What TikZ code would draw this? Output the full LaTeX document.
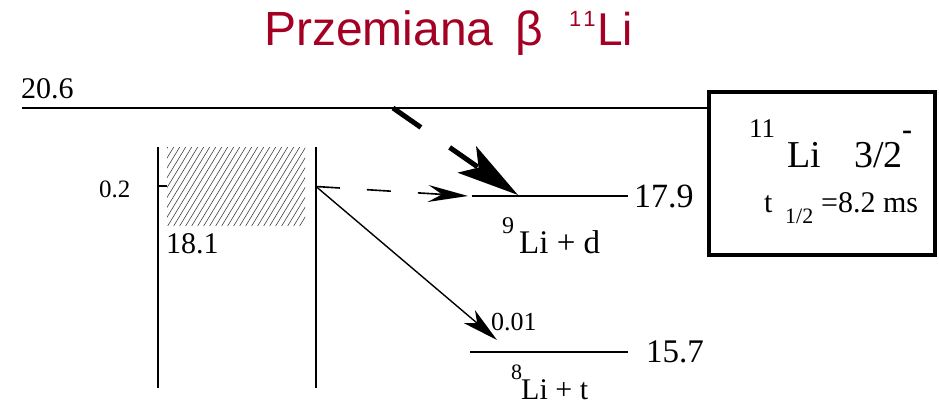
\documentclass[tikz,border=0pt]{standalone}
\usepackage{fontspec}
\setmainfont{Liberation Serif}
\newfontfamily\titlefont{Liberation Sans}
\newfontfamily\serifnum{Liberation Serif}
\usetikzlibrary{arrows.meta}
\definecolor{titlered}{RGB}{163,0,35}
\newcommand\fsz[1]{\fontsize{#1}{#1}\selectfont}
\begin{document}
\begin{tikzpicture}[x=1pt,y=-1pt,
  lbl/.style={inner sep=0pt, anchor=base west},
  level/.style={line width=2.4pt},
  wall/.style={line width=2pt},
  thick dashed arrow/.style={line width=5pt, dash pattern=on 34pt off 35pt,
    -{Stealth[length=62pt,width=32pt,inset=14pt]}},
  thin dashed arrow/.style={line width=1.6pt, dash pattern=on 24pt off 27pt,
    -{Stealth[length=40pt,width=17pt,inset=14pt]}},
  thin arrow/.style={line width=1.4pt, -{Stealth[length=36pt,width=17pt,inset=10pt]}},
  hatch/.style={line width=0.6pt, black!75}]
\useasboundingbox (0,0) rectangle (939,404);

% title
\node[lbl, text=titlered, font=\titlefont\fsz{48}] (title) at (264,46) {Przemiana\hspace{9pt} β};
\node[lbl, text=titlered, font=\titlefont\fsz{22}] (titlesup) at (569,27) {1\hspace{2pt}1};
\node[lbl, text=titlered, font=\titlefont\fsz{46}] (titleli) at (597,46) {Li};

% box
\node[draw, line width=4pt, minimum width=226pt, minimum height=163pt, anchor=north west, inner sep=0pt] (box) at (707,90) {};
\node[lbl, font=\serifnum\fsz{27}] (bsup) at (749,137) {11};
\node[lbl, font=\serifnum\fsz{38}] (bli) at (787,167) {Li};
\node[lbl, font=\serifnum\fsz{38}] (bspin) at (854,167) {3/2};
\node[lbl, font=\serifnum\fsz{30}\bfseries] (bpar) at (902,139) {-};
\node[lbl, font=\serifnum\fsz{30}] (bt) at (764,212) {t};
\node[lbl, font=\serifnum\fsz{22}] (bhalf) at (785,223) {1/2};
\node[lbl, font=\serifnum\fsz{30}] (bval) at (821,212) {=8.2 ms};

% level 20.6
\coordinate (a206) at (22,108);
\node[lbl, font=\serifnum\fsz{30}] (t206) at (21,98) {20.6};
\draw[level] (a206) -- (a206 -| box.west);

% resonance walls
\coordinate (wl-top) at (158,147);
\coordinate (wl-bot) at (158,388);
\coordinate (wr-top) at (316,147);
\coordinate (wr-bot) at (316,388);
\draw[wall] (wl-top) -- (wl-bot);
\draw[wall] (wr-top) -- (wr-bot);

% hatched area
\coordinate (h-nw) at (167,147);
\coordinate (h-se) at (305,225);
\begin{scope}
  \clip (h-nw) rectangle (h-se);
  \foreach \i in {0,...,44} {
    \draw[hatch] (110+\i*6,232) -- (166+\i*6,140);
  }
\end{scope}
\node[lbl, font=\serifnum\fsz{30}] (t181) at (166,253) {18.1};

% 0.2 width marks
\coordinate (tickl) at (158,186);
\coordinate (tickl2) at (167,186);
\draw[wall] (tickl) -- (tickl2);
\coordinate (res) at (316,186.5);
\node[lbl, font=\serifnum\fsz{25}] (t02) at (99,197) {0.2};

% level 17.9
\coordinate (l179a) at (472,196);
\coordinate (l179b) at (628,196);
\draw[level] (l179a) -- (l179b);
\node[lbl, font=\serifnum\fsz{34}] (t179) at (634,207) {17.9};
\node[lbl, font=\serifnum\fsz{24}] (sup9) at (502,233) {9};
\node[lbl, font=\serifnum\fsz{33}] (lid) at (519,253) {Li + d};

% level 15.7
\coordinate (l157a) at (470,352);
\coordinate (l157b) at (628,352);
\draw[level] (l157a) -- (l157b);
\node[lbl, font=\serifnum\fsz{33}] (t157) at (646,362) {15.7};
\node[lbl, font=\serifnum\fsz{26}] (t001) at (491,330) {0.01};
\node[lbl, font=\serifnum\fsz{22}] (sup8) at (511,379) {8};
\node[lbl, font=\serifnum\fsz{30}] (lit) at (521,399) {Li + t};

% arrows
\coordinate (beta-start) at (393,108);
\coordinate (beta-end) at (518,195);
\draw[thick dashed arrow] (beta-start) -- (beta-end);
\coordinate (d-end) at (468,196);
\draw[thin dashed arrow] (res) -- (d-end);
\coordinate (t-end) at (497,340);
\draw[thin arrow] (res) -- (t-end);
\end{tikzpicture}
\end{document}
